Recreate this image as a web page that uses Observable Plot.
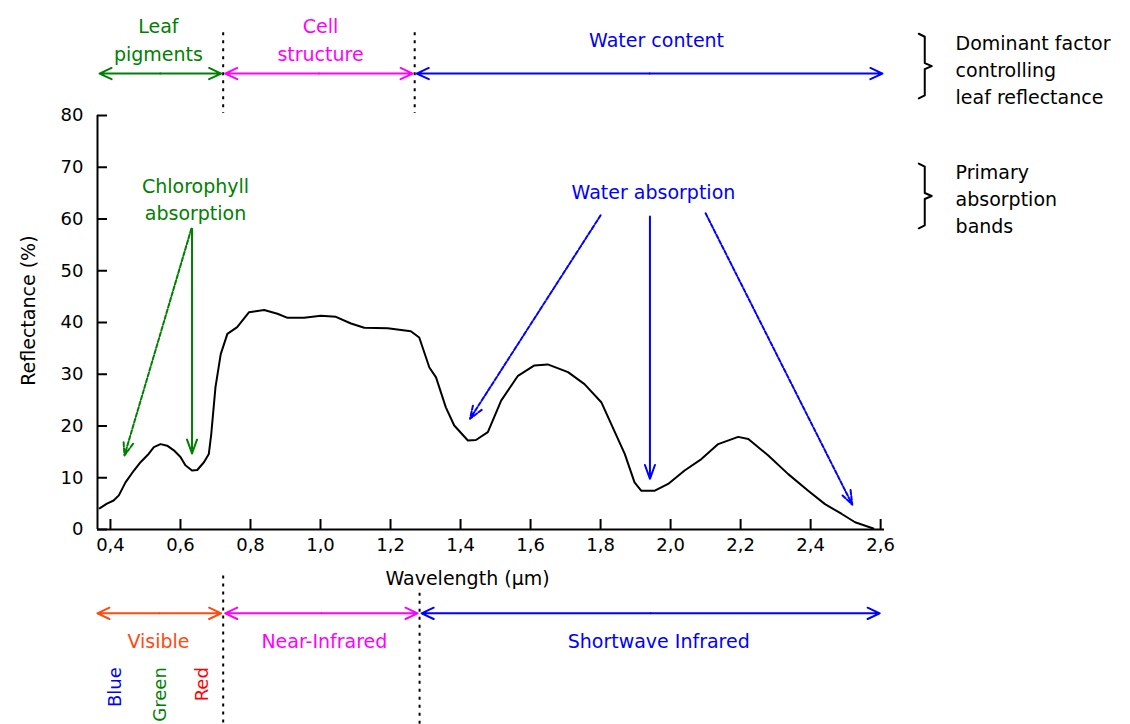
<!DOCTYPE html>
<html><head><meta charset="utf-8">
<script src="https://cdn.jsdelivr.net/npm/d3@7"></script>
<script src="https://cdn.jsdelivr.net/npm/@observablehq/plot@0.6"></script>
<style>html,body{margin:0;padding:0;background:#fff;}</style>
</head><body><div id="chart"></div>
<script>
// ---- spectral reflectance curve ----
const wavelength = [0.369,0.390,0.409,0.424,0.443,0.467,0.486,0.509,0.524,0.543,0.562,0.581,0.600,0.614,0.633,0.648,0.667,0.681,0.688,0.700,0.715,0.734,0.762,0.796,0.839,0.877,0.906,0.953,1.001,1.044,1.087,1.125,1.192,1.258,1.282,1.311,1.330,1.358,1.382,1.421,1.444,1.478,1.516,1.564,1.611,1.649,1.707,1.754,1.802,1.835,1.869,1.897,1.916,1.955,1.993,2.040,2.088,2.136,2.193,2.222,2.279,2.336,2.393,2.441,2.489,2.527,2.579];
const reflectance = [4.1,5.0,5.6,6.6,9.1,11.4,13.0,14.6,15.9,16.5,16.2,15.3,14.0,12.4,11.4,11.5,13.0,14.6,18.5,27.5,33.9,37.8,39.1,42.0,42.4,41.7,40.9,40.9,41.3,41.1,39.8,39.0,38.9,38.3,37.1,31.3,29.4,23.6,20.1,17.2,17.3,18.8,24.9,29.7,31.7,31.9,30.4,28.1,24.6,19.7,14.6,9.1,7.5,7.5,8.8,11.4,13.6,16.5,17.9,17.5,14.3,10.7,7.5,4.9,3.0,1.4,0.2];

// ---- axes ----
const xDomain = [0.363, 2.611];
const yDomain = [0, 80];
const xTicks = [0.4,0.6,0.8,1.0,1.2,1.4,1.6,1.8,2.0,2.2,2.4,2.6];
const xTickLabels = ["0,4","0,6","0,8","1,0","1,2","1,4","1,6","1,8","2,0","2,2","2,4","2,6"];
const yTicks = [0,10,20,30,40,50,60,70,80];
const xTitle = "Wavelength (µm)";
const yTitle = "Reflectance (%)";

// ---- dominant factor bands (top) ----
const factorLabels = ["Leaf\npigments", "Cell\nstructure", "Water content"];
const factorStart = [0.363, 0.722, 1.269];
const factorEnd = [0.722, 1.269, 2.611];
const factorLabelX = [0.537, 1.0, 1.96];
const factorLabelY = [94.9, 94.9, 94.9];
const factorColors = ["#008000", "#ff00ff", "#0000ff"];
const factorArrowY = 88.1;
const factorDividerX = [0.722, 1.269];
const factorDividerY = [96.0, 80.4];

// ---- spectral regions (bottom) ----
const regionLabels = ["Visible", "Near-Infrared", "Shortwave Infrared"];
const regionStart = [0.357, 0.722, 1.283];
const regionEnd = [0.722, 1.283, 2.603];
const regionLabelX = [0.537, 1.011, 1.966];
const regionLabelY = -21.8;
const regionColors = ["#ff4a10", "#ff00ff", "#0000ff"];
const regionArrowY = -16.2;
const regionDividerX = [0.722, 1.283];
const regionDividerTop = [-8.9, -12.2];
const regionDividerBottom = -37.7;

const colourLabels = ["Blue", "Green", "Red"];
const colourX = [0.414, 0.543, 0.663];
const colourColors = ["#0000ff", "#008000", "#ff0000"];
const colourTopY = -26.6;

// ---- absorption annotations ----
const absLabels = ["Chlorophyll\nabsorption", "Water absorption"];
const absLabelX = [0.643, 1.951];
const absLabelY = [64.06, 65.5];
const absColors = ["#008000", "#0000ff"];
const absArrowGroup = [0, 0, 1, 1, 1];
const absArrowX1 = [0.631, 0.633, 1.800, 1.941, 2.100];
const absArrowY1 = [58.1, 58.1, 60.7, 60.5, 61.1];
const absArrowX2 = [0.440, 0.633, 1.427, 1.941, 2.519];
const absArrowY2 = [14.3, 14.7, 21.4, 9.8, 4.8];
const absArrowDashed = [true, false, true, false, true];

// ---- side notes ----
const noteLabels = ["Dominant factor\ncontrolling\nleaf reflectance", "Primary\nabsorption\nbands"];
const noteX = 2.814;
const noteY = [89.1, 64.15];
const braceX = 2.726;
const braceTop = [95.8, 70.7];
const braceBottom = [83.3, 58.2];

// ---- build tables ----
const W = 1130, H = 724, mL = 97, mR = 246, mT = 115, mB = 195;
const pxX = (xDomain[1] - xDomain[0]) / (W - mL - mR);
const pxY = (yDomain[1] - yDomain[0]) / (H - mT - mB);

const curve = wavelength.map((w, i) => ({w, r: reflectance[i]}));

const factorArrows = factorLabels.flatMap((l, i) => {
  const mid = (factorStart[i] + factorEnd[i]) / 2;
  return [
    {x1: mid, x2: factorStart[i], c: factorColors[i]},
    {x1: mid, x2: factorEnd[i], c: factorColors[i]}
  ];
});
const regionArrows = regionLabels.flatMap((l, i) => {
  const mid = (regionStart[i] + regionEnd[i]) / 2;
  return [
    {x1: mid, x2: regionStart[i], c: regionColors[i]},
    {x1: mid, x2: regionEnd[i], c: regionColors[i]}
  ];
});
const absArrows = absArrowX1.map((x1, i) => ({
  x1, y1: absArrowY1[i], x2: absArrowX2[i], y2: absArrowY2[i],
  c: absColors[absArrowGroup[i]], dashed: absArrowDashed[i]
}));

const braces = braceTop.flatMap((t, k) => {
  const b = braceBottom[k], m = (t + b) / 2, hx = 6 * pxX, r = 3 * pxY, p = 7 * pxX;
  return [
    [braceX - hx, t], [braceX, t - r], [braceX, m + r], [braceX + p, m],
    [braceX, m - r], [braceX, b + r], [braceX - hx, b]
  ].map(([x, y]) => ({x, y, k}));
});

const font = "'DejaVu Sans', Verdana, sans-serif";

const chart = Plot.plot({
  width: W, height: H,
  marginLeft: mL, marginRight: mR, marginTop: mT, marginBottom: mB,
  style: {fontFamily: font, fontSize: "20px", background: "#fff", overflow: "visible", color: "#000"},
  x: {domain: xDomain},
  y: {domain: yDomain},
  marks: [
    Plot.axisX(xTicks, {tickSize: 0, tickPadding: 9, fontSize: 18, label: null,
      tickFormat: d => xTickLabels[xTicks.indexOf(d)]}),
    Plot.axisY(yTicks, {tickSize: 0, tickPadding: 14, fontSize: 18, label: null}),
    Plot.ruleY(yTicks, {y: d => d, x1: xDomain[0], x2: xDomain[0] + 10 * pxX, stroke: "#000", strokeWidth: 2}),
    Plot.ruleX(xTicks, {x: d => d, y1: 0, y2: 10 * pxY, stroke: "#000", strokeWidth: 2}),
    Plot.ruleX([xDomain[0]], {y1: yDomain[0], y2: yDomain[1], stroke: "#000", strokeWidth: 2}),
    Plot.ruleY([0], {x1: xDomain[0], x2: xDomain[1], stroke: "#000", strokeWidth: 2}),
    Plot.text([xTitle], {x: 1.42, y: -9.6, text: d => d, fontSize: 19, fill: "#000"}),
    Plot.text([yTitle], {x: 0.166, y: 42.3, text: d => d, rotate: -90, fontSize: 19, fill: "#000"}),

    Plot.line(curve, {x: "w", y: "r", stroke: "#000", strokeWidth: 2}),

    Plot.ruleX(factorDividerX, {x: d => d, y1: factorDividerY[0], y2: factorDividerY[1], stroke: "#000", strokeWidth: 2, strokeDasharray: "3,5"}),
    Plot.arrow(factorArrows, {x1: "x1", x2: "x2", y1: factorArrowY, y2: factorArrowY, stroke: "c", strokeWidth: 2, headLength: 10, headAngle: 50, insetEnd: 2}),
    Plot.text(factorLabels, {x: (d, i) => factorLabelX[i], y: (d, i) => factorLabelY[i], text: d => d, fill: (d, i) => factorColors[i], fontSize: 19, lineHeight: 1.45}),

    Plot.link(regionDividerX, {x1: d => d, x2: d => d, y1: (d, i) => regionDividerTop[i], y2: regionDividerBottom, stroke: "#000", strokeWidth: 2, strokeDasharray: "3,5"}),
    Plot.arrow(regionArrows, {x1: "x1", x2: "x2", y1: regionArrowY, y2: regionArrowY, stroke: "c", strokeWidth: 2, headLength: 10, headAngle: 50, insetEnd: 2}),
    Plot.text(regionLabels, {x: (d, i) => regionLabelX[i], y: regionLabelY, text: d => d, fill: (d, i) => regionColors[i], fontSize: 19}),
    Plot.text(colourLabels, {x: (d, i) => colourX[i], y: colourTopY, text: d => d, fill: (d, i) => colourColors[i], rotate: -90, textAnchor: "end", fontSize: 18}),

    Plot.arrow(absArrows.filter(d => !d.dashed), {x1: "x1", y1: "y1", x2: "x2", y2: "y2", stroke: "c", strokeWidth: 2, headLength: 11, headAngle: 40}),
    Plot.arrow(absArrows.filter(d => d.dashed), {x1: "x1", y1: "y1", x2: "x2", y2: "y2", stroke: "c", strokeWidth: 2, headLength: 11, headAngle: 40, strokeDasharray: "4,2"}),
    Plot.text(absLabels, {x: (d, i) => absLabelX[i], y: (d, i) => absLabelY[i], text: d => d, fill: (d, i) => absColors[i], fontSize: 19, lineHeight: 1.4}),

    Plot.line(braces, {x: "x", y: "y", z: "k", stroke: "#000", strokeWidth: 2}),
    Plot.text(noteLabels, {x: noteX, y: (d, i) => noteY[i], text: d => d, textAnchor: "start", fill: "#000", fontSize: 19, lineHeight: 1.4})
  ]
});
document.getElementById("chart").appendChild(chart);
</script>
</body></html>
